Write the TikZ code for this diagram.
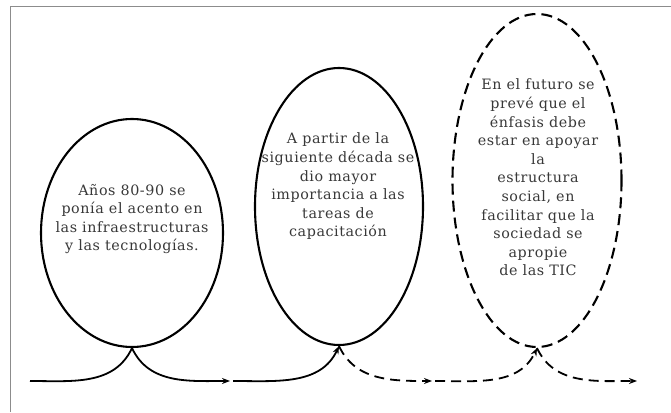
\documentclass[tikz,border=0pt]{standalone}
\usepackage{fontspec}
\setmainfont{DejaVu Serif}[LetterSpace=4]
\usetikzlibrary{shapes.geometric,arrows.meta}
\begin{document}
\begin{tikzpicture}[x=1pt,y=1pt,
  bubble/.style={ellipse, draw=black, line width=2.1pt, inner sep=0pt},
  futurebubble/.style={bubble, dash pattern=on 11pt off 6pt},
  bubbletext/.style={align=center, font=\fontsize{14.3}{18.6}\selectfont, text=black!78, inner sep=0pt},
  flow/.style={line width=1.8pt, -{Stealth[length=8pt,width=6pt]}},
  flowdash/.style={flow, dash pattern=on 10pt off 6pt},
  frame/.style={draw=black!45, line width=1.3pt}
]
\useasboundingbox (0,0) rectangle (671,412);
\draw[frame] (10.7,0) -- (10.7,405.3) -- (671,405.3);

\node[bubble, minimum width=182pt, minimum height=228pt] (e1) at (132,179) {};
\node[bubble, minimum width=168pt, minimum height=277pt] (e2) at (339,205.5) {};
\node[futurebubble, minimum width=169pt, minimum height=333pt] (e3) at (537,231.5) {};

\node[bubbletext] (t1) at (132,193) {Años 80-90 se\\ponía el acento en\\las infraestructuras\\y las tecnologías.};
\node[bubbletext] (t2) at (338,225.5) {A partir de la\\siguiente década se\\dio mayor\\importancia a las\\tareas de\\capacitación};
\node[bubbletext] (t3) at (538,234.5) {En el futuro se\\prevé que el\\énfasis debe\\estar en apoyar\\la\\estructura\\social, en\\facilitar que la\\sociedad se\\apropie\\de las TIC};

\coordinate (s0) at (30,31);
\coordinate (a1) at (230,31);
\coordinate (s1) at (233,31);
\coordinate (a2) at (432,31);
\coordinate (s2) at (435,31);
\coordinate (a3) at (637,31);

\draw[line width=1.8pt] (s0) to[out=0,in=245] (e1.south);
\draw[flow] (e1.south) to[out=-65,in=180] (a1);
\draw[flow] (s1) to[out=0,in=245] (e2.south);
\draw[flowdash] (e2.south) to[out=-65,in=180] (a2);
\draw[flowdash] (s2) to[out=0,in=245] (e3.south);
\draw[flowdash] (e3.south) to[out=-65,in=180] (a3);
\end{tikzpicture}
\end{document}
